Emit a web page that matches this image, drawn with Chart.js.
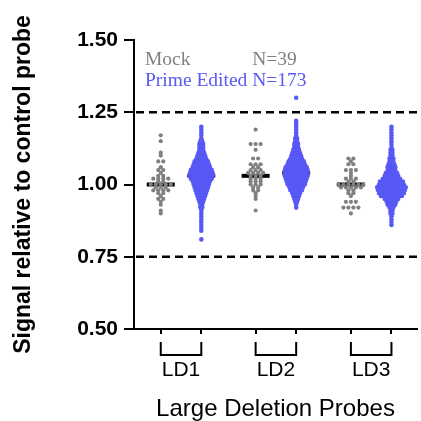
<!DOCTYPE html>
<html>
<head>
<meta charset="utf-8">
<script src="https://cdn.jsdelivr.net/npm/chart.js@4.4.1/dist/chart.umd.min.js"></script>
<style>
  body { margin: 0; background: #fff; }
</style>
</head>
<body>
<canvas id="probeChart" width="421" height="421"></canvas>
<script>
const probes = ["LD1", "LD2", "LD3"];
const yTicks = [0.5, 0.75, 1.0, 1.25, 1.5];
const cutoffs = [1.25, 0.75];

// signal relative to control probe, one value per cell
const mockLD1 = [1.17, 1.15, 1.11, 1.10, 1.08, 1.08, 1.06, 1.05, 1.05, 1.04, 1.03, 1.03, 1.02, 1.02, 1.02, 1.02, 1.01, 1.01,
  1.00, 1.00, 1.00, 1.00, 1.00, 0.99, 0.99, 0.99, 0.98, 0.98, 0.98, 0.98, 0.97, 0.97, 0.96, 0.95, 0.95, 0.94, 0.93, 0.91, 0.90];
const mockLD2 = [1.19, 1.14, 1.14, 1.14, 1.12, 1.09, 1.09, 1.07, 1.07, 1.07, 1.06, 1.06, 1.05, 1.05, 1.05, 1.04, 1.04, 1.04,
  1.04, 1.03, 1.03, 1.03, 1.02, 1.02, 1.02, 1.01, 1.01, 1.01, 1.00, 1.00, 1.00, 0.99, 0.99, 0.98, 0.98, 0.97, 0.96, 0.95, 0.91];
const mockLD3 = [1.09, 1.09, 1.08, 1.07, 1.07, 1.05, 1.05, 1.05, 1.04, 1.03, 1.02, 1.02, 1.02, 1.01, 1.01, 1.00, 1.00, 1.00,
  1.00, 1.00, 1.00, 0.99, 0.99, 0.99, 0.99, 0.99, 0.98, 0.98, 0.97, 0.97, 0.96, 0.94, 0.94, 0.94, 0.92, 0.92, 0.92, 0.92, 0.90];

const primeLD1 = [
  1.20, 1.19, 1.18, 1.17, 1.16, 1.15, 1.15, 1.14, 1.14, 1.14, 1.13, 1.13, 1.13, 1.12, 1.12, 1.12,
  1.11, 1.11, 1.11, 1.11, 1.10, 1.10, 1.10, 1.10, 1.10,
  1.09, 1.09, 1.09, 1.09, 1.09, 1.09,
  1.08, 1.08, 1.08, 1.08, 1.08, 1.08, 1.08, 1.08,
  1.07, 1.07, 1.07, 1.07, 1.07, 1.07, 1.07, 1.07, 1.07,
  1.06, 1.06, 1.06, 1.06, 1.06, 1.06, 1.06, 1.06, 1.06, 1.06,
  1.05, 1.05, 1.05, 1.05, 1.05, 1.05, 1.05, 1.05, 1.05, 1.05, 1.05, 1.05,
  1.04, 1.04, 1.04, 1.04, 1.04, 1.04, 1.04, 1.04, 1.04, 1.04, 1.04, 1.04, 1.04,
  1.03, 1.03, 1.03, 1.03, 1.03, 1.03, 1.03, 1.03, 1.03, 1.03, 1.03, 1.03, 1.03,
  1.02, 1.02, 1.02, 1.02, 1.02, 1.02, 1.02, 1.02, 1.02, 1.02, 1.02, 1.02,
  1.01, 1.01, 1.01, 1.01, 1.01, 1.01, 1.01, 1.01, 1.01, 1.01,
  1.00, 1.00, 1.00, 1.00, 1.00, 1.00, 1.00, 1.00, 1.00,
  0.99, 0.99, 0.99, 0.99, 0.99, 0.99, 0.99, 0.99,
  0.98, 0.98, 0.98, 0.98, 0.98, 0.98, 0.98,
  0.97, 0.97, 0.97, 0.97, 0.97, 0.97,
  0.96, 0.96, 0.96, 0.96, 0.96,
  0.95, 0.95, 0.95, 0.95, 0.94, 0.94, 0.94, 0.93, 0.93, 0.92, 0.92,
  0.91, 0.90, 0.89, 0.88, 0.87, 0.86, 0.85, 0.84, 0.81
];
const primeLD2 = [
  1.30, 1.22, 1.21, 1.20, 1.19, 1.18, 1.17, 1.16, 1.16, 1.15, 1.15, 1.14, 1.14, 1.14, 1.13, 1.13, 1.13,
  1.12, 1.12, 1.12, 1.12, 1.11, 1.11, 1.11, 1.11, 1.11,
  1.10, 1.10, 1.10, 1.10, 1.10, 1.10,
  1.09, 1.09, 1.09, 1.09, 1.09, 1.09, 1.09,
  1.08, 1.08, 1.08, 1.08, 1.08, 1.08, 1.08, 1.08, 1.08,
  1.07, 1.07, 1.07, 1.07, 1.07, 1.07, 1.07, 1.07, 1.07, 1.07,
  1.06, 1.06, 1.06, 1.06, 1.06, 1.06, 1.06, 1.06, 1.06, 1.06, 1.06, 1.06,
  1.05, 1.05, 1.05, 1.05, 1.05, 1.05, 1.05, 1.05, 1.05, 1.05, 1.05, 1.05, 1.05,
  1.04, 1.04, 1.04, 1.04, 1.04, 1.04, 1.04, 1.04, 1.04, 1.04, 1.04, 1.04, 1.04,
  1.03, 1.03, 1.03, 1.03, 1.03, 1.03, 1.03, 1.03, 1.03, 1.03, 1.03, 1.03, 1.03,
  1.02, 1.02, 1.02, 1.02, 1.02, 1.02, 1.02, 1.02, 1.02, 1.02, 1.02, 1.02,
  1.01, 1.01, 1.01, 1.01, 1.01, 1.01, 1.01, 1.01, 1.01, 1.01, 1.01,
  1.00, 1.00, 1.00, 1.00, 1.00, 1.00, 1.00, 1.00, 1.00, 1.00,
  0.99, 0.99, 0.99, 0.99, 0.99, 0.99, 0.99, 0.99,
  0.98, 0.98, 0.98, 0.98, 0.98, 0.98, 0.98,
  0.97, 0.97, 0.97, 0.97, 0.97, 0.96, 0.96, 0.96, 0.96,
  0.95, 0.95, 0.95, 0.94, 0.94, 0.93, 0.92
];
const primeLD3 = [
  1.20, 1.19, 1.18, 1.17, 1.16, 1.15, 1.14, 1.13, 1.12, 1.12, 1.11, 1.11, 1.10, 1.10,
  1.09, 1.09, 1.09, 1.08, 1.08, 1.08, 1.07, 1.07, 1.07, 1.07,
  1.06, 1.06, 1.06, 1.06, 1.06, 1.05, 1.05, 1.05, 1.05, 1.05,
  1.04, 1.04, 1.04, 1.04, 1.04, 1.04, 1.04,
  1.03, 1.03, 1.03, 1.03, 1.03, 1.03, 1.03, 1.03,
  1.02, 1.02, 1.02, 1.02, 1.02, 1.02, 1.02, 1.02, 1.02, 1.02,
  1.01, 1.01, 1.01, 1.01, 1.01, 1.01, 1.01, 1.01, 1.01, 1.01, 1.01, 1.01, 1.01,
  1.00, 1.00, 1.00, 1.00, 1.00, 1.00, 1.00, 1.00, 1.00, 1.00, 1.00, 1.00, 1.00, 1.00,
  0.99, 0.99, 0.99, 0.99, 0.99, 0.99, 0.99, 0.99, 0.99, 0.99, 0.99, 0.99, 0.99, 0.99, 0.99, 0.99,
  0.98, 0.98, 0.98, 0.98, 0.98, 0.98, 0.98, 0.98, 0.98, 0.98, 0.98, 0.98, 0.98, 0.98, 0.98,
  0.97, 0.97, 0.97, 0.97, 0.97, 0.97, 0.97, 0.97, 0.97, 0.97, 0.97, 0.97, 0.97, 0.97,
  0.96, 0.96, 0.96, 0.96, 0.96, 0.96, 0.96, 0.96, 0.96, 0.96, 0.96, 0.96,
  0.95, 0.95, 0.95, 0.95, 0.95, 0.95, 0.95, 0.95,
  0.94, 0.94, 0.94, 0.94, 0.94, 0.94,
  0.93, 0.93, 0.93, 0.93, 0.93, 0.92, 0.92, 0.92,
  0.91, 0.91, 0.90, 0.90, 0.89, 0.88, 0.87, 0.86
];

const mockSeries = [mockLD1, mockLD2, mockLD3];
const primeSeries = [primeLD1, primeLD2, primeLD3];

const MOCK_COLOR = "#808080";
const PRIME_COLOR = "rgb(88, 88, 245)";
const groupCenters = [1.16, 3.5, 5.85];

function median(arr) {
  const s = arr.slice().sort((a, b) => a - b);
  const m = Math.floor(s.length / 2);
  return s.length % 2 ? s[m] : (s[m - 1] + s[m]) / 2;
}

const datasets = [];
probes.forEach((name, i) => {
  datasets.push({
    label: "Mock " + name,
    data: mockSeries[i].map(v => ({ x: groupCenters[i] - 0.5, y: v })),
    backgroundColor: MOCK_COLOR,
    borderWidth: 0,
    pointRadius: 2.1,
    dotSpacing: 5,
    medianWidth: 28,
    medianLine: 4,
  });
  datasets.push({
    label: "Prime Edited " + name,
    data: primeSeries[i].map(v => ({ x: groupCenters[i] + 0.5, y: v })),
    backgroundColor: PRIME_COLOR,
    borderWidth: 0,
    pointRadius: 2.3,
    dotSpacing: 1.9,
    medianWidth: 28,
    medianLine: 3.5,
  });
});

// equal values share a row; spread each row sideways around the column centre
const swarm = {
  id: "swarm",
  afterDatasetsUpdate(chart) {
    chart.data.datasets.forEach((ds, i) => {
      const pts = chart.getDatasetMeta(i).data;
      const rows = {};
      ds.data.forEach((d, j) => {
        const key = d.y.toFixed(3);
        (rows[key] = rows[key] || []).push(pts[j]);
      });
      Object.values(rows).forEach(row => {
        row.forEach((p, k) => {
          p.x += (k - (row.length - 1) / 2) * ds.dotSpacing;
        });
      });
    });
  }
};

// dashed cutoffs and median bars behind the dots
const guides = {
  id: "guides",
  beforeDatasetsDraw(chart) {
    const { ctx, chartArea, scales: { x, y } } = chart;
    ctx.save();
    ctx.strokeStyle = "#000";
    ctx.lineWidth = 2.5;
    ctx.setLineDash([8, 5]);
    cutoffs.forEach(c => {
      const py = y.getPixelForValue(c);
      ctx.beginPath();
      ctx.moveTo(chartArea.left + 2, py);
      ctx.lineTo(chartArea.right + 1, py);
      ctx.stroke();
    });
    ctx.setLineDash([]);
    chart.data.datasets.forEach(ds => {
      const vals = ds.data.map(d => d.y);
      const cx = x.getPixelForValue(ds.data[0].x);
      const py = y.getPixelForValue(median(vals));
      ctx.lineWidth = ds.medianLine;
      ctx.beginPath();
      ctx.moveTo(cx - ds.medianWidth / 2, py);
      ctx.lineTo(cx + ds.medianWidth / 2, py);
      ctx.stroke();
    });
    ctx.restore();
  }
};

// probe brackets, probe names and the N legend
const annotations = {
  id: "annotations",
  afterDraw(chart) {
    const { ctx, chartArea, scales: { x } } = chart;
    ctx.save();
    ctx.strokeStyle = "#000";
    ctx.lineWidth = 2;
    ctx.fillStyle = "#000";
    ctx.font = "21px 'Liberation Sans', Arial, sans-serif";
    ctx.textAlign = "center";
    ctx.textBaseline = "middle";
    const b = chartArea.bottom;
    probes.forEach((name, i) => {
      const x1 = x.getPixelForValue(groupCenters[i] - 0.5);
      const x2 = x.getPixelForValue(groupCenters[i] + 0.5);
      ctx.beginPath();
      ctx.moveTo(x1, b + 13);
      ctx.lineTo(x1, b + 26);
      ctx.lineTo(x2, b + 26);
      ctx.lineTo(x2, b + 13);
      ctx.stroke();
      ctx.fillText(name, (x1 + x2) / 2, b + 41);
    });

    ctx.font = "19.5px 'Liberation Serif', 'Times New Roman', serif";
    ctx.textAlign = "left";
    ctx.textBaseline = "alphabetic";
    const lx = chartArea.left + 11;
    const primeLabel = "Prime Edited ";
    const nx = lx + ctx.measureText(primeLabel).width;
    ctx.fillStyle = MOCK_COLOR;
    ctx.fillText("Mock", lx, chartArea.top + 25);
    ctx.fillText("N=" + mockLD1.length, nx, chartArea.top + 25);
    ctx.fillStyle = PRIME_COLOR;
    ctx.fillText(primeLabel + "N=" + primeLD1.length, lx, chartArea.top + 46);
    ctx.restore();
  }
};

new Chart("probeChart", {
  type: "scatter",
  data: { datasets: datasets },
  plugins: [swarm, guides, annotations],
  options: {
    responsive: false,
    animation: false,
    layout: { padding: { top: 40, right: 1, left: 0, bottom: 0 } },
    plugins: {
      legend: { display: false },
      tooltip: { enabled: false },
    },
    scales: {
      x: {
        type: "linear",
        min: 0,
        max: 6.98,
        afterFit: scale => { scale.height = 92; },
        afterBuildTicks: scale => {
          scale.ticks = [];
          groupCenters.forEach(c => {
            scale.ticks.push({ value: c - 0.5 }, { value: c + 0.5 });
          });
        },
        ticks: { display: false },
        grid: { drawOnChartArea: false, color: "#000", lineWidth: 2, tickLength: 5 },
        border: { color: "#000", width: 2 },
        title: {
          display: true,
          text: "Large Deletion Probes",
          color: "#000",
          font: { family: "'Liberation Sans', Arial, sans-serif", size: 24, lineHeight: 1 },
          padding: { top: 0, bottom: 0 },
        },
      },
      y: {
        min: 0.5,
        max: 1.5,
        afterFit: scale => { scale.width = 134; },
        afterBuildTicks: scale => { scale.ticks = yTicks.map(v => ({ value: v })); },
        ticks: {
          color: "#000",
          padding: 6,
          font: { family: "'Liberation Sans', Arial, sans-serif", size: 21, weight: "bold" },
          callback: v => v.toFixed(2),
        },
        grid: { drawOnChartArea: false, color: "#000", lineWidth: 2, tickLength: 10 },
        border: { color: "#000", width: 2 },
        title: {
          display: true,
          text: "Signal relative to control probe",
          color: "#000",
          font: { family: "'Liberation Sans', Arial, sans-serif", size: 23, weight: "bold", lineHeight: 1 },
          padding: { top: 12, bottom: 0 },
        },
      },
    },
  },
});
</script>
</body>
</html>
